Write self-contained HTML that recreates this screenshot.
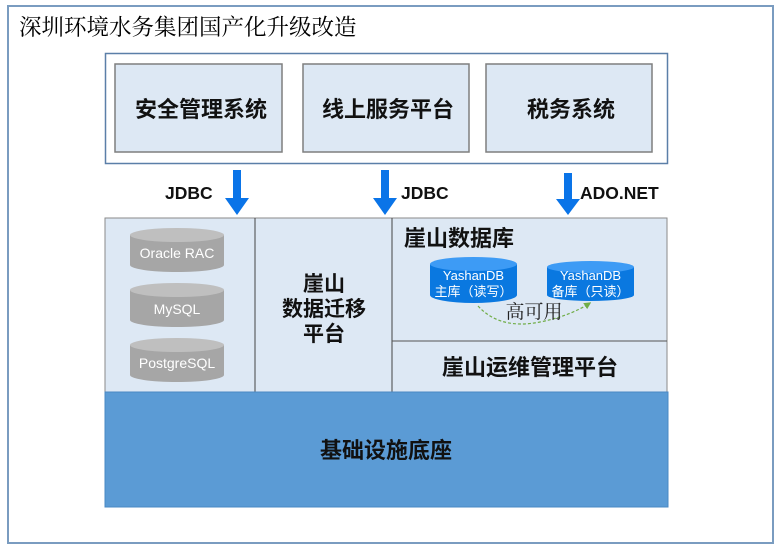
<!DOCTYPE html>
<html><head><meta charset="utf-8"><style>
body{margin:0;background:#fff;}
svg text{font-family:"Liberation Sans","Noto Sans CJK SC",sans-serif;}
</style></head><body>
<svg width="782" height="550" viewBox="0 0 782 550" xmlns="http://www.w3.org/2000/svg">
<defs>
<marker id="g" viewBox="0 0 10 10" refX="8" refY="5" markerWidth="6" markerHeight="6" orient="auto"><path d="M0,0L10,5L0,10z" fill="#70ad47"/></marker>
</defs>
<rect x="8" y="6" width="765" height="537" fill="#fff" stroke="#7a9cc0" stroke-width="2"/>
<text x="19" y="35" font-size="22.5" style="font-family:'Liberation Serif','Noto Serif CJK SC',serif">深圳环境水务集团国产化升级改造</text>
<rect x="105.5" y="53.5" width="562" height="110" fill="#fff" stroke="#5b7fa8" stroke-width="1.5"/>
<g fill="#dde8f4" stroke="#7f7f7f" stroke-width="1.5">
<rect x="115" y="64" width="167" height="88"/>
<rect x="303" y="64" width="166" height="88"/>
<rect x="486" y="64" width="166" height="88"/>
</g>
<g font-size="22" font-weight="bold" text-anchor="middle" fill="#111">
<text x="201" y="117">安全管理系统</text>
<text x="388" y="117">线上服务平台</text>
<text x="571" y="117">税务系统</text>
</g>
<g fill="#0a74e8">
<path d="M233,170h8v28h8l-12,17l-12,-17h8z"/>
<path d="M381,170h8v28h8l-12,17l-12,-17h8z"/>
<path d="M564,173h8v26h8l-12,16l-12,-16h8z"/>
</g>
<g font-size="17.5" font-weight="bold" fill="#111">
<text x="165" y="199">JDBC</text>
<text x="401" y="199">JDBC</text>
<text x="580" y="199">ADO.NET</text>
</g>
<rect x="105" y="218" width="562" height="174" fill="#dde8f4" stroke="#8a8a8a"/>
<line x1="255" y1="218" x2="255" y2="392" stroke="#444"/>
<line x1="392" y1="218" x2="392" y2="392" stroke="#444"/>
<line x1="392" y1="341" x2="667" y2="341" stroke="#555"/>
<g>
<path d="M130,235v30a47,7 0 0 0 94,0v-30z" fill="#a6a6a6"/><ellipse cx="177" cy="235" rx="47" ry="7" fill="#bfbfbf"/>
<path d="M130,290v30a47,7 0 0 0 94,0v-30z" fill="#a6a6a6"/><ellipse cx="177" cy="290" rx="47" ry="7" fill="#bfbfbf"/>
<path d="M130,345v30a47,7 0 0 0 94,0v-30z" fill="#a6a6a6"/><ellipse cx="177" cy="345" rx="47" ry="7" fill="#bfbfbf"/>
</g>
<g font-size="14" fill="#fff" text-anchor="middle">
<text x="177" y="258">Oracle RAC</text>
<text x="177" y="314">MySQL</text>
<text x="177" y="368">PostgreSQL</text>
</g>
<g font-size="21" font-weight="bold" text-anchor="middle" fill="#111">
<text x="324" y="291">崖山</text>
<text x="324" y="316">数据迁移</text>
<text x="324" y="341">平台</text>
</g>
<text x="530" y="375" font-size="22" font-weight="bold" text-anchor="middle" fill="#111">崖山运维管理平台</text>
<text x="404" y="246" font-size="22" font-weight="bold" fill="#111">崖山数据库</text>
<path d="M430,264v31a43.5,8 0 0 0 87,0v-31z" fill="#0a78e0"/><ellipse cx="473.5" cy="264" rx="43.5" ry="7" fill="#3d9bf5"/>
<path d="M547,267v28a43.5,6 0 0 0 87,0v-28z" fill="#0a78e0"/><ellipse cx="590.5" cy="267" rx="43.5" ry="6" fill="#3d9bf5"/>
<g font-size="13" fill="#fff" text-anchor="middle">
<text x="473.5" y="280">YashanDB</text>
<text x="473.5" y="296">主库（读写）</text>
<text x="590.5" y="280">YashanDB</text>
<text x="590.5" y="296">备库（只读）</text>
</g>
<path d="M478,306Q500,330 540,322Q570,316 590,303" fill="none" stroke="#70ad47" stroke-width="1.2" stroke-dasharray="3,2" marker-end="url(#g)"/>
<text x="534" y="318" font-size="19" text-anchor="middle" fill="#222" style="font-family:'Liberation Serif','Noto Serif CJK SC',serif">高可用</text>
<rect x="105" y="392" width="563" height="115" fill="#5b9bd5" stroke="#4a88c4"/>
<text x="386" y="458" font-size="22" font-weight="bold" text-anchor="middle" fill="#111">基础设施底座</text>
</svg>
</body></html>
